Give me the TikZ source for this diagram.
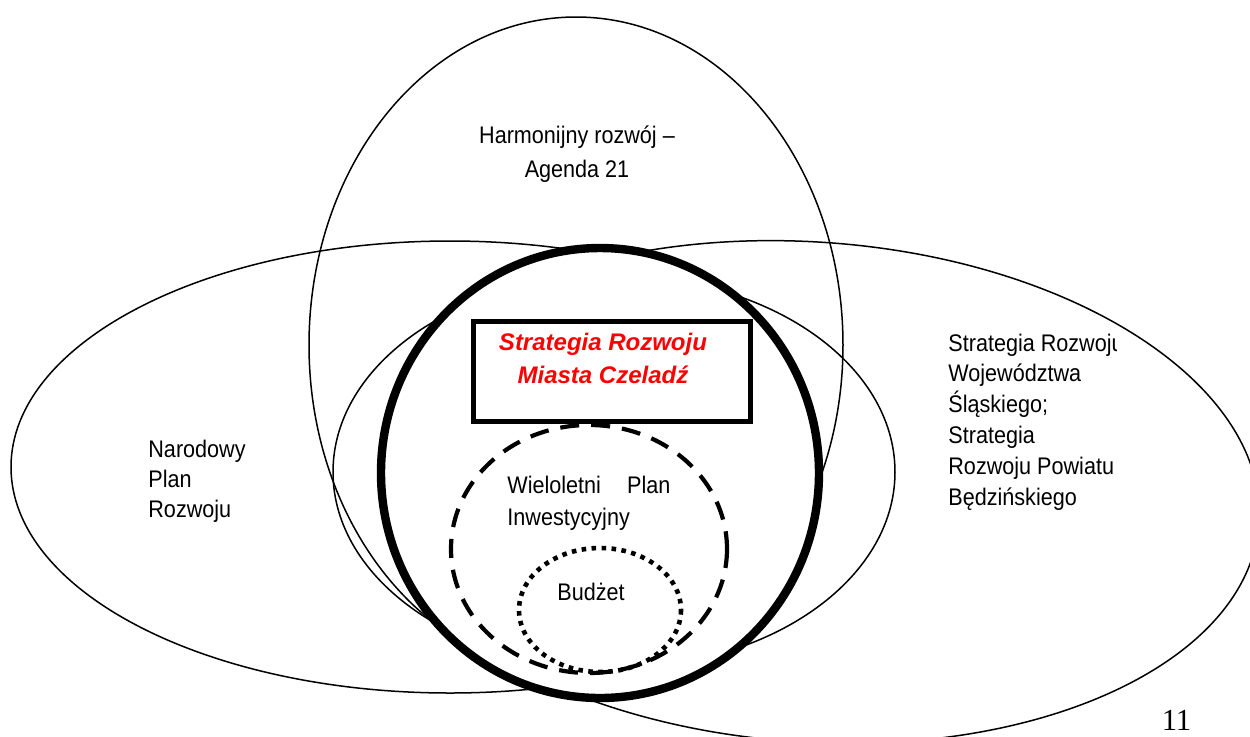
\documentclass[tikz,border=0pt]{standalone}
\usepackage{fontspec}
\setmainfont{Liberation Sans}
\newfontfamily\narrowfont{Liberation Sans}[FakeStretch=0.9]
\newfontfamily\pagenumfont{Liberation Serif}
\begin{document}
\begin{tikzpicture}[x=0.5pt,y=-0.5pt,
  outline/.style={draw=black,line width=0.75pt},
  mainring/.style={draw=black,fill=white,line width=4.2pt},
  planring/.style={draw=black,line width=2.1pt,dash pattern=on 9.5pt off 6pt},
  budgetring/.style={draw=black,line width=2.3pt,dash pattern=on 2.3pt off 2.7pt},
  titlebox/.style={draw=black,fill=white,line width=2.5pt},
  plaintext/.style={inner sep=0pt,font=\narrowfont\fontsize{12pt}{15pt}\selectfont}
]
\useasboundingbox (0,0) rectangle (1250,736);
\begin{scope}
  \clip (0,0) rectangle (1250,736);
  % Narodowy Plan Rozwoju
  \draw[outline] (450,467) ellipse [x radius=439, y radius=226];
  % Strategia Rozwoju Wojewodztwa
  \draw[outline, rotate around={-4:(810,492)}] (810,492) ellipse [x radius=450, y radius=250];
  % middle ellipse
  \draw[outline, fill=white] (614,472) ellipse [x radius=281, y radius=196];
  % Agenda 21
  \draw[outline] (576,345) ellipse [x radius=267, y radius=328];
  % city strategy ring
  \draw[mainring] (600,473) ellipse [x radius=219, y radius=225];
  % plan ring
  \draw[planring] (589,549) ellipse [x radius=138, y radius=124];
  % budget ring
  \draw[budgetring] (600,610) ellipse [x radius=81, y radius=62];
  % title box
  \draw[titlebox] (473,321.5) rectangle (750,421);
\end{scope}

\node[plaintext, anchor=base, align=center,
      font=\narrowfont\fontsize{12pt}{17pt}\selectfont] (agenda) at (577,177)
  {Harmonijny rozwój –\\Agenda 21};

\node[plaintext, anchor=base west, align=left] (npr) at (148,517)
  {Narodowy\\Plan\\Rozwoju};

\begin{scope}
  \clip (900,300) rectangle (1116,540);
  \node[plaintext, anchor=base west, align=left,
        font=\narrowfont\fontsize{12pt}{15.4pt}\selectfont] (srw) at (948,505)
    {Strategia Rozwoju\\Województwa\\Śląskiego;\\Strategia\\Rozwoju Powiatu\\Będzińskiego};
\end{scope}

\node[plaintext, anchor=base west, text width=81.5pt, align=left,
      font=\narrowfont\fontsize{12pt}{16.2pt}\selectfont] (wpi) at (507,493)
  {Wieloletni\hskip 0pt plus 1filll Plan\\Inwestycyjny};

\node[plaintext, anchor=base] (budzet) at (591,600) {Budżet};

\node[inner sep=0pt, anchor=base, align=center, text=red,
      font=\bfseries\itshape\fontsize{12pt}{16.5pt}\selectfont] (srmc) at (603,383)
  {Strategia Rozwoju\\Miasta Czeladź};

\node[inner sep=0pt, anchor=base, font=\pagenumfont\fontsize{15.3pt}{18pt}\selectfont]
  (pagenum) at (1176.5,730.5) {11};
\end{tikzpicture}
\end{document}
